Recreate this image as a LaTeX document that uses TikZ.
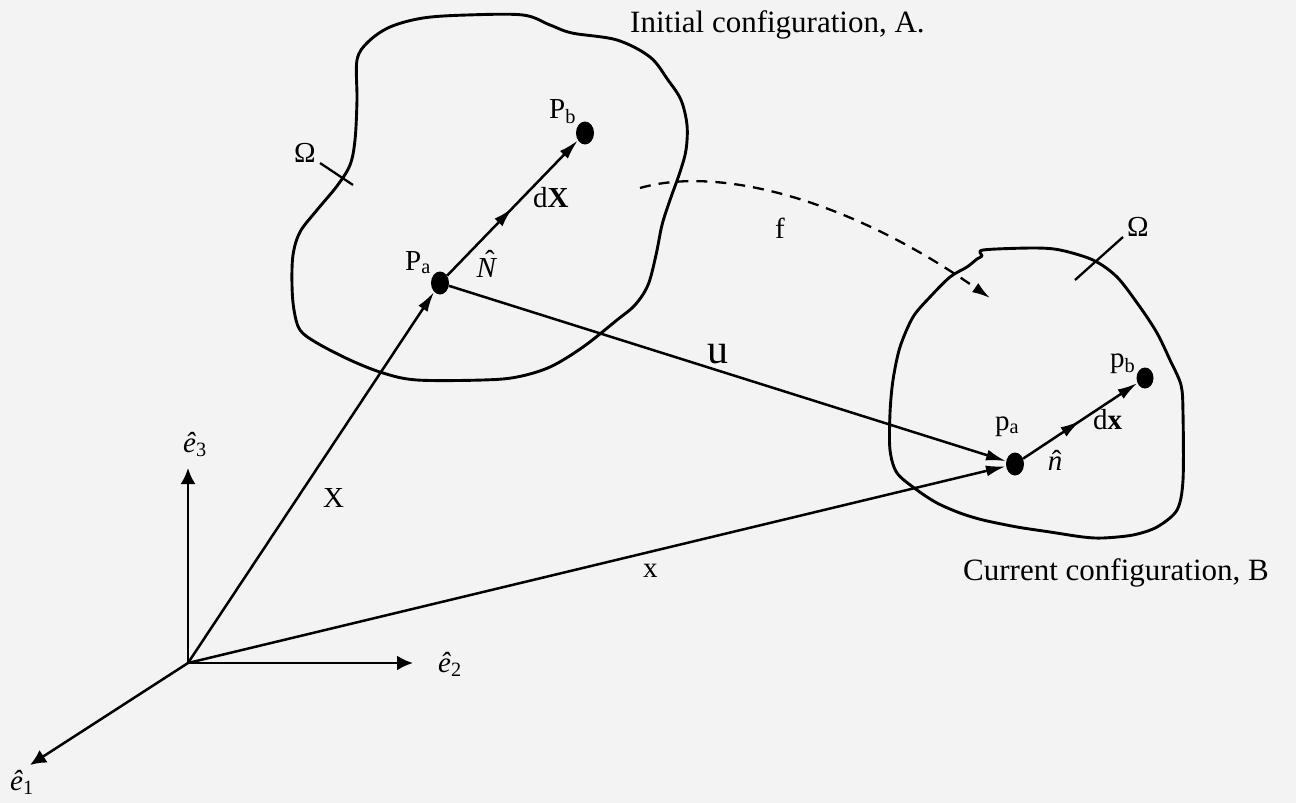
\documentclass[tikz,border=0pt]{standalone}
\usepackage{fontspec}
\setmainfont{Liberation Serif}
\usetikzlibrary{arrows.meta,shapes.geometric,decorations.markings}
\definecolor{bgcol}{RGB}{243,243,243}
\newcommand\hatlow[1]{\ooalign{\textit{#1}\cr\hidewidth\kern0.12em ˆ\hidewidth\cr}}
\newcommand\hatcap[1]{\ooalign{\textit{#1}\cr\hidewidth\kern0.2em\raisebox{0.22em}{ˆ}\hidewidth\cr}}
\begin{document}
\begin{tikzpicture}[x=1pt,y=-1pt,
  blob/.style={draw=black,line width=2.9pt,line join=round},
  vec/.style={draw=black,line width=2.5pt,-{Latex[length=20pt,width=11pt]}},
  axisvec/.style={draw=black,line width=2.5pt,-{Latex[length=16pt,width=15pt]}},
  midarrow/.style={postaction={decorate},decoration={markings,mark=at position #1 with {\arrow{Latex[length=20pt,width=11pt]}}}},
  dot/.style={ellipse,fill=black,draw=none,minimum width=18pt,minimum height=23pt,inner sep=0pt},
  lbl/.style={font=\fontsize{29}{34}\selectfont,inner sep=0pt},
  title/.style={font=\fontsize{31}{36}\selectfont,inner sep=0pt},
  leader/.style={draw=black,line width=2.3pt},
  mapping/.style={draw=black,line width=2.3pt,dash pattern=on 11pt off 8pt,-{Latex[length=18pt,width=11pt]}}
]
\useasboundingbox[fill=bgcol] (0,0) rectangle (1296,803);

% Initial configuration blob
\draw[blob] plot[smooth cycle,tension=0.55] coordinates {
 (357,60) (368,42) (390,27) (423,18) (467,15) (523,15) (550,25) (572,33)
 (617,40) (650,57) (668,80) (681,100) (687,125) (686,150) (680,172) (670,200)
 (662,225) (656,255) (648,285) (635,305) (617,320) (583,347) (550,367) (517,377)
 (483,380) (417,380) (383,373) (350,360) (317,343) (300,330) (294,310) (292,285)
 (293,255) (300,232) (317,210) (337,186) (350,165) (355,140) (357,100)};

% Current configuration blob
\draw[blob] plot[smooth cycle,tension=0.5] coordinates {
 (983,250) (1033,248) (1060,250) (1093,260) (1117,277) (1140,307) (1157,333)
 (1170,360) (1181,385) (1183,413) (1183,480) (1177,510) (1157,527) (1133,535)
 (1103,538) (1083,537) (1050,532) (1017,527) (983,520) (960,513) (937,503)
 (917,490) (897,473) (890,450) (890,413) (893,380) (900,347) (913,317) (930,297)
 (950,277) (967,267) (977,259) (982,256)};

% points
\node[dot] (Pa) at (440,283) {};
\node[dot] (Pb) at (585,133) {};
\node[dot] (pa) at (1015,464) {};
\node[dot,minimum width=17pt,minimum height=21pt] (pb) at (1145,378) {};

% origin and axes
\coordinate (O) at (188,663);
\coordinate (E3) at (188,468);
\coordinate (E2) at (413,663);
\coordinate (E1) at (30,765);
\draw[axisvec] (O) -- (E3);
\draw[axisvec] (O) -- (E2);
\draw[axisvec] (O) -- (E1);

% vectors
\draw[vec] (O) -- (Pa);
\draw[vec] (O) -- (pa);
\draw[vec] (Pa) -- (pa);
\draw[vec,midarrow=0.5] (Pa) -- (Pb);
\draw[vec,midarrow=0.5] (pa) -- (pb);

% mapping f
\coordinate (fS) at (640,188);
\coordinate (fE) at (990,298);
\draw[mapping] (fS) .. controls (720,165) and (850,200) .. (fE);

% Omega leaders
\coordinate (oA1) at (320,163);
\coordinate (oA2) at (353,185);
\coordinate (oB1) at (1123,237);
\coordinate (oB2) at (1075,280);
\draw[leader] (oA1) -- (oA2);
\draw[leader] (oB1) -- (oB2);

% labels
\node[title,anchor=base west] (tA) at (630,32) {Initial configuration, A.};
\node[title,anchor=base west] (tB) at (963,580) {Current configuration, B};
\node[lbl] (OmA) at (305,153) {Ω};
\node[lbl] (OmB) at (1138,227) {Ω};
\node[lbl,anchor=base west] (lPb) at (549,118) {P\textsubscript{b}};
\node[lbl,anchor=base west] (lPa) at (405,270) {P\textsubscript{a}};
\node[lbl,anchor=base] (lN) at (487,277) {\hatcap{N}};
\node[lbl,anchor=base west] (ldX) at (533,207) {d\textbf{X}};
\node[lbl,anchor=base west] (lX) at (323,507) {X};
\node[lbl,anchor=base west] (lx) at (643,577) {x};
\node[lbl,anchor=base west] (lf) at (775,238) {f};
\node[lbl,font=\fontsize{42}{48}\selectfont,anchor=base west] (lu) at (707,363) {u};
\node[lbl,anchor=base west] (lpa) at (995,430) {p\textsubscript{a}};
\node[lbl,anchor=base west] (lpb) at (1110,367) {p\textsubscript{b}};
\node[lbl,anchor=base] (ln) at (1055,470) {\hatlow{n}};
\node[lbl,anchor=base west] (ldx) at (1093,429) {d\textbf{x}};
\node[lbl,anchor=base west] (le3) at (183,452) {\textit{ê}\textsubscript{3}};
\node[lbl,anchor=base west] (le2) at (438,672) {\textit{ê}\textsubscript{2}};
\node[lbl,anchor=base west] (le1) at (10,790) {\textit{ê}\textsubscript{1}};
\end{tikzpicture}
\end{document}
